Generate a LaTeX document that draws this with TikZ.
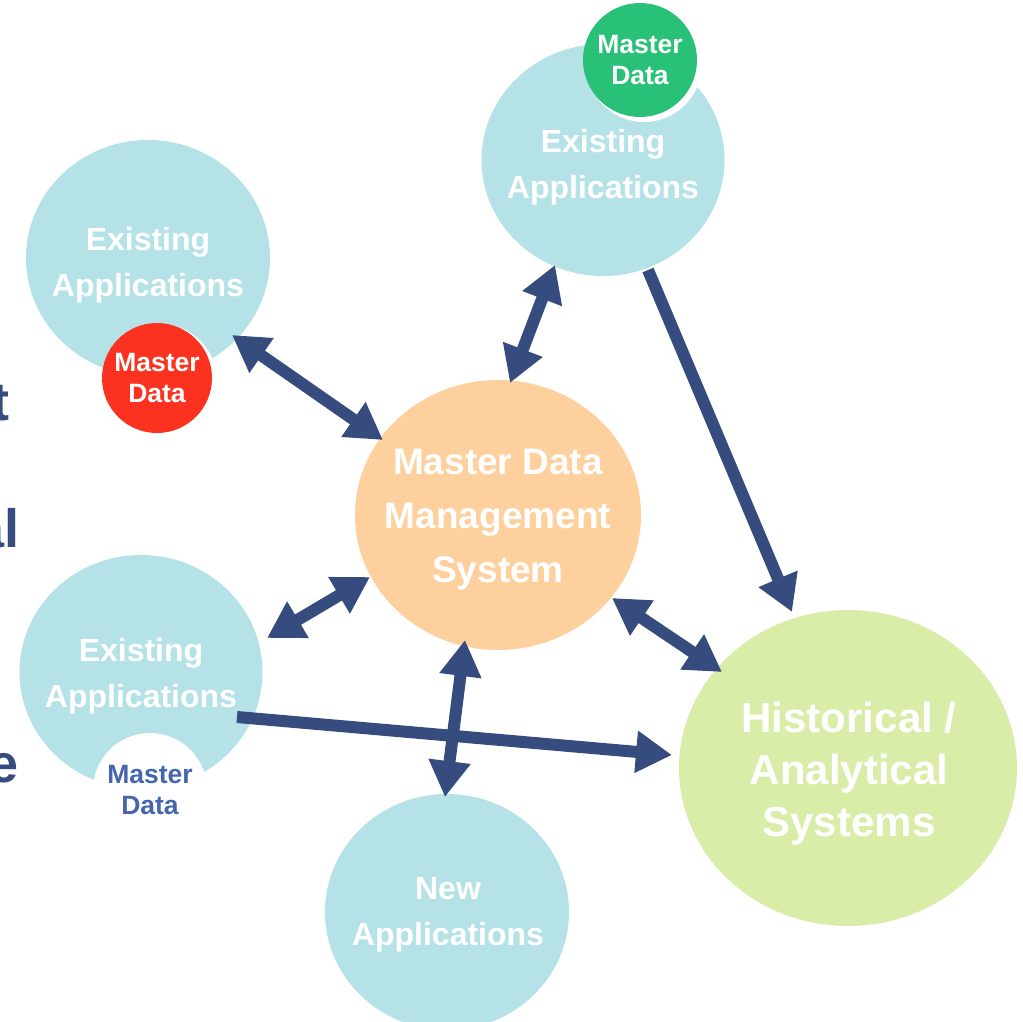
\documentclass[tikz,border=0pt]{standalone}
\usepackage{fontspec}
\setmainfont{Liberation Sans}
\usetikzlibrary{arrows.meta,shapes.geometric}
\definecolor{appblue}{HTML}{B5E2E7}
\definecolor{mdmorange}{HTML}{FDD09E}
\definecolor{histgreen}{HTML}{D9EDA8}
\definecolor{mdred}{HTML}{FC3220}
\definecolor{mdgreen}{HTML}{29C177}
\definecolor{navy}{HTML}{374C7E}
\definecolor{mdtext}{HTML}{4565AE}
\begin{document}
\begin{tikzpicture}[x=1pt,y=-1pt,
  blob/.style={ellipse,inner sep=0pt,draw=none},
  lbl/.style={inner sep=0pt,align=center,text=white,font=\bfseries\fontsize{32}{46}\selectfont},
  md/.style={circle,inner sep=0pt,minimum size=110pt},
  mdlbl/.style={inner sep=0pt,align=center,text=white,font=\bfseries\fontsize{26.5}{31}\selectfont},
  frag/.style={anchor=base east,inner sep=0pt,text=navy,font=\bfseries\fontsize{54}{54}\selectfont},
  link/.style={draw=navy,line width=12pt}
]
\useasboundingbox (0,0) rectangle (1023,1022);
% fragments of slide text on the left edge
\node[frag] (f1) at (9.5,420) {t};
\node[frag] (f2) at (19.5,547) {al};
\node[frag] (f3) at (19,782) {e};
% existing applications
\node[blob,fill=appblue,minimum width=244pt,minimum height=236pt] (app1) at (148,258) {};
\node[blob,fill=appblue,minimum width=243pt,minimum height=232pt] (app2) at (603,160) {};
\node[blob,fill=appblue,minimum width=243pt,minimum height=234pt] (app3) at (141,672) {};
\node[blob,fill=appblue,minimum width=244pt,minimum height=236pt] (app4) at (447,912) {};
\node[lbl] (app1t) at (148,265) {Existing\\Applications};
\node[lbl] (app2t) at (603,167) {Existing\\Applications};
\node[lbl] (app3t) at (141,676) {Existing\\Applications};
\node[lbl] (app4t) at (448,915) {New\\Applications};
% master data badges
\node[md,fill=white,minimum size=114pt] (ring1) at (160,381) {};
\node[md,fill=mdred] (md1) at (157,378) {};
\node[mdlbl] (md1t) at (157,378) {Master\\Data};
\node[md,fill=white,minimum size=116pt] (ring2) at (644,64) {};
\node[md,fill=mdgreen,minimum size=114pt] (md2) at (640,60) {};
\node[mdlbl] (md2t) at (640,60) {Master\\Data};
\node[md,fill=white,minimum size=114pt] (md3) at (150,790) {};
\node[mdlbl,text=mdtext] (md3t) at (150,790) {Master\\Data};
% central and analytical systems
\node[blob,fill=mdmorange,minimum width=286pt,minimum height=270pt] (mdm) at (498,515) {};
\node[lbl,font=\bfseries\fontsize{37}{54}\selectfont] (mdmt) at (498,520) {Master Data\\Management\\System};
\node[blob,fill=histgreen,minimum width=338pt,minimum height=316pt] (hist) at (848,768) {};
\node[lbl,font=\bfseries\fontsize{42}{52}\selectfont] (histt) at (849,774) {Historical /\\Analytical\\Systems};
% connector end points
\coordinate (a1) at (232,335); \coordinate (b1) at (383,440);
\coordinate (a2) at (555,265); \coordinate (b2) at (510,383);
\coordinate (a3) at (648,270); \coordinate (b3) at (792,612);
\coordinate (a4) at (612,598); \coordinate (b4) at (722,672);
\coordinate (a5) at (267,638); \coordinate (b5) at (370,577);
\coordinate (a6) at (465,640); \coordinate (b6) at (445,797);
\coordinate (a7) at (237,717); \coordinate (b7) at (672,755);
% connectors
\draw[link,{Triangle[width=40pt,length=36pt]}-{Triangle[width=40pt,length=36pt]}] (a1) -- (b1);
\draw[link,{Triangle[width=40pt,length=36pt]}-{Triangle[width=40pt,length=36pt]}] (a2) -- (b2);
\draw[link,-{Triangle[width=40pt,length=36pt]}] (a3) -- (b3);
\draw[link,{Triangle[width=40pt,length=36pt]}-{Triangle[width=40pt,length=36pt]}] (a4) -- (b4);
\draw[link,{Triangle[width=40pt,length=36pt]}-{Triangle[width=40pt,length=36pt]}] (a5) -- (b5);
\draw[link,{Triangle[width=40pt,length=36pt]}-{Triangle[width=40pt,length=36pt]}] (a6) -- (b6);
\draw[link,-{Triangle[width=40pt,length=36pt]}] (a7) -- (b7);
\end{tikzpicture}
\end{document}
